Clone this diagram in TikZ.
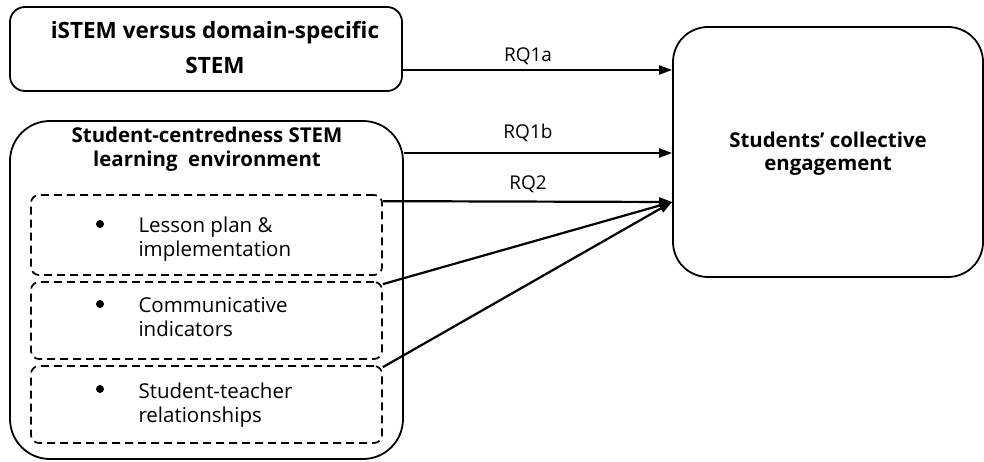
\documentclass[tikz,border=0pt]{standalone}
\usepackage{fontspec}
\setmainfont{Open Sans}
\usetikzlibrary{arrows.meta,calc}
\begin{document}
\begin{tikzpicture}[x=1bp,y=-1bp,
  box/.style={draw,line width=1.8bp,rounded corners=#1,inner sep=0pt},
  box/.default=15bp,
  dbox/.style={draw,dashed,dash pattern=on 8bp off 5bp,line width=1.7bp,rounded corners=8bp,inner sep=0pt,
    minimum width=351bp},
  arr/.style={line width=2.2bp,-{Triangle[length=13bp,width=9bp]}},
  btxt/.style={font=\fontsize{20.4bp}{24bp}\selectfont\bfseries,anchor=base,align=center},
  bigtxt/.style={font=\fontsize{22.5bp}{24bp}\selectfont\bfseries,anchor=base,align=center},
  rtxt/.style={font=\fontsize{20.5bp}{24bp}\selectfont,anchor=base west,align=left},
  lbl/.style={font=\fontsize{19bp}{20bp}\selectfont,anchor=base}]
\useasboundingbox (0,0) rectangle (984,462);

% boxes
\node[box=15bp,minimum width=392bp,minimum height=84bp] (b1) at (206,49) {};
\node[box=40bp,minimum width=393bp,minimum height=338bp] (b2) at (206.5,290) {};
\node[box=35bp,minimum width=310bp,minimum height=250bp] (eng) at (828,152) {};

% dashed sub-boxes
\node[dbox,minimum height=80bp] (dA) at (206.5,235) {};
\node[dbox,minimum height=77bp] (dB) at (206.5,320.5) {};
\node[dbox,minimum height=77bp] (dC) at (206.5,404.5) {};

% titles
\node[bigtxt] (t1a) at (215,39) {iSTEM versus domain-specific};
\node[bigtxt] (t1b) at (215,74) {STEM};
\node[btxt] (t2a) at (207,143) {Student-centredness STEM};
\node[btxt] (t2b) at (207,167) {learning\ \ environment};
\node[btxt] (t3a) at (828,148) {Students’ collective};
\node[btxt] (t3b) at (828,171) {engagement};

% bullet items
\foreach \n/\y/\la/\lb in {ia/233/{Lesson plan \&}/implementation,
                          ib/313/Communicative/indicators,
                          ic/398/Student-teacher/relationships}{
  \fill (100,\y-9) circle (4bp);
  \node[rtxt] (\n1) at (135,\y) {\la};
  \node[rtxt] (\n2) at (135,\y+24) {\lb};
}

% connectors
\coordinate (tgt) at ([yshift=-50bp]eng.west);
\draw[arr] ([yshift=-21bp]b1.east) coordinate (s1) -- (s1 -| eng.west);
\draw[arr] ([yshift=137bp]b2.east) coordinate (s2) -- (s2 -| eng.west);
\draw[arr] ([yshift=-7bp]dA.north east) -- (tgt);
\draw[arr] ([yshift=-3bp]dB.north east) -- (tgt);
\draw[arr] ([yshift=-2bp]dC.north east) -- (tgt);

% labels
\node[lbl] (l1) at (528,62) {RQ1a};
\node[lbl] (l2) at (528,139) {RQ1b};
\node[lbl] (l3) at (528,190) {RQ2};
\end{tikzpicture}
\end{document}
